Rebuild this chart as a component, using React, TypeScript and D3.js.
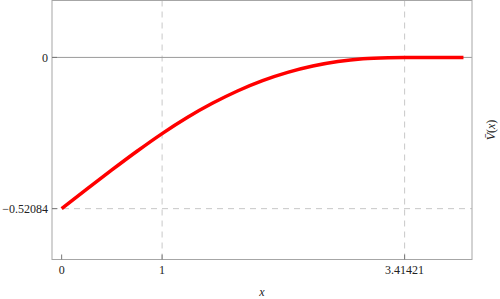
import * as d3 from "d3"

// V̄(x)
const xs = [0, 0.25, 0.5, 0.75, 1.0, 1.25, 1.5, 1.75, 2.0, 2.25, 2.5, 2.75, 3.0, 3.25, 3.41421, 3.7, 4.0]
const vs = [-0.5208, -0.4537, -0.3876, -0.3233, -0.2624, -0.207, -0.1581, -0.1156, -0.08, -0.0515, -0.0297, -0.0142, -0.0046, -0.0008, 0, 0, 0]

const xTicks = [0, 1, 3.41421]
const xTickLabels = ["0", "1", "3.41421"]
const yTicks = [0, -0.52084]
const yTickLabels = ["0", "\u22120.52084"]
const xGrid = [1, 3.41421]
const yGrid = [-0.52084]

const W = 500
const H = 299
const left = 52
const right = 472
const top = 0.5
const bottom = 259.5
const font = "'Times New Roman', Times, 'Liberation Serif', 'DejaVu Serif', serif"

export default function App() {
  const x = d3.scaleLinear().domain([-0.096, 4.085]).range([left, right])
  const y = d3.scaleLinear().domain([-0.696, 0.196]).range([bottom, top])

  const pts = xs.map((d, i) => [d, vs[i]] as [number, number])
  const line = d3
    .line<[number, number]>()
    .x((d) => x(d[0]))
    .y((d) => y(d[1]))
    .curve(d3.curveMonotoneX)

  return (
    <svg
      width={W}
      height={H}
      fontFamily={font}
      fontSize={12}
      style={{ position: "absolute", left: 0, top: 0, display: "block", background: "white" }}
    >
      {/* grid */}
      {xGrid.map((g) => (
        <line key={"gx" + g} x1={x(g)} x2={x(g)} y1={top} y2={bottom}
          stroke="#c8c8c8" strokeWidth={1} strokeDasharray="6,5" />
      ))}
      {yGrid.map((g) => (
        <line key={"gy" + g} x1={left} x2={right} y1={y(g)} y2={y(g)}
          stroke="#c8c8c8" strokeWidth={1} strokeDasharray="6,5" />
      ))}
      {/* zero axis */}
      <line x1={left} x2={right} y1={y(0)} y2={y(0)} stroke="#9a9a9a" strokeWidth={1} />

      {/* curve */}
      <path d={line(pts) ?? ""} fill="none" stroke="#ff0000" strokeWidth={3.5} strokeLinejoin="round" />

      {/* frame */}
      <rect x={left} y={top} width={right - left} height={bottom - top} fill="none" stroke="#a6a6a6" strokeWidth={1} />

      {/* bottom ticks */}
      {xTicks.map((t, i) => (
        <g key={"xt" + t}>
          <line x1={x(t)} x2={x(t)} y1={bottom} y2={bottom - 5} stroke="#777" strokeWidth={1} />
          <text x={x(t)} y={bottom + 14} textAnchor="middle" fill="#222">
            {xTickLabels[i]}
          </text>
        </g>
      ))}
      {/* left ticks */}
      {yTicks.map((t, i) => (
        <g key={"yt" + t}>
          <line x1={left} x2={left + 5} y1={y(t)} y2={y(t)} stroke="#777" strokeWidth={1} />
          <text x={left - 4} y={y(t)} dy="0.35em" textAnchor="end" fill="#222">
            {yTickLabels[i]}
          </text>
        </g>
      ))}

      {/* axis labels */}
      <text x={(left + right) / 2} y={296} textAnchor="middle" fontStyle="italic" fill="#222">
        x
      </text>
      <text transform={`translate(495,${(top + bottom) / 2}) rotate(-90)`} textAnchor="middle" fill="#222">
        <tspan fontStyle="italic">{"V\u0304"}</tspan>
        <tspan>(</tspan>
        <tspan fontStyle="italic">x</tspan>
        <tspan>)</tspan>
      </text>
    </svg>
  )
}
